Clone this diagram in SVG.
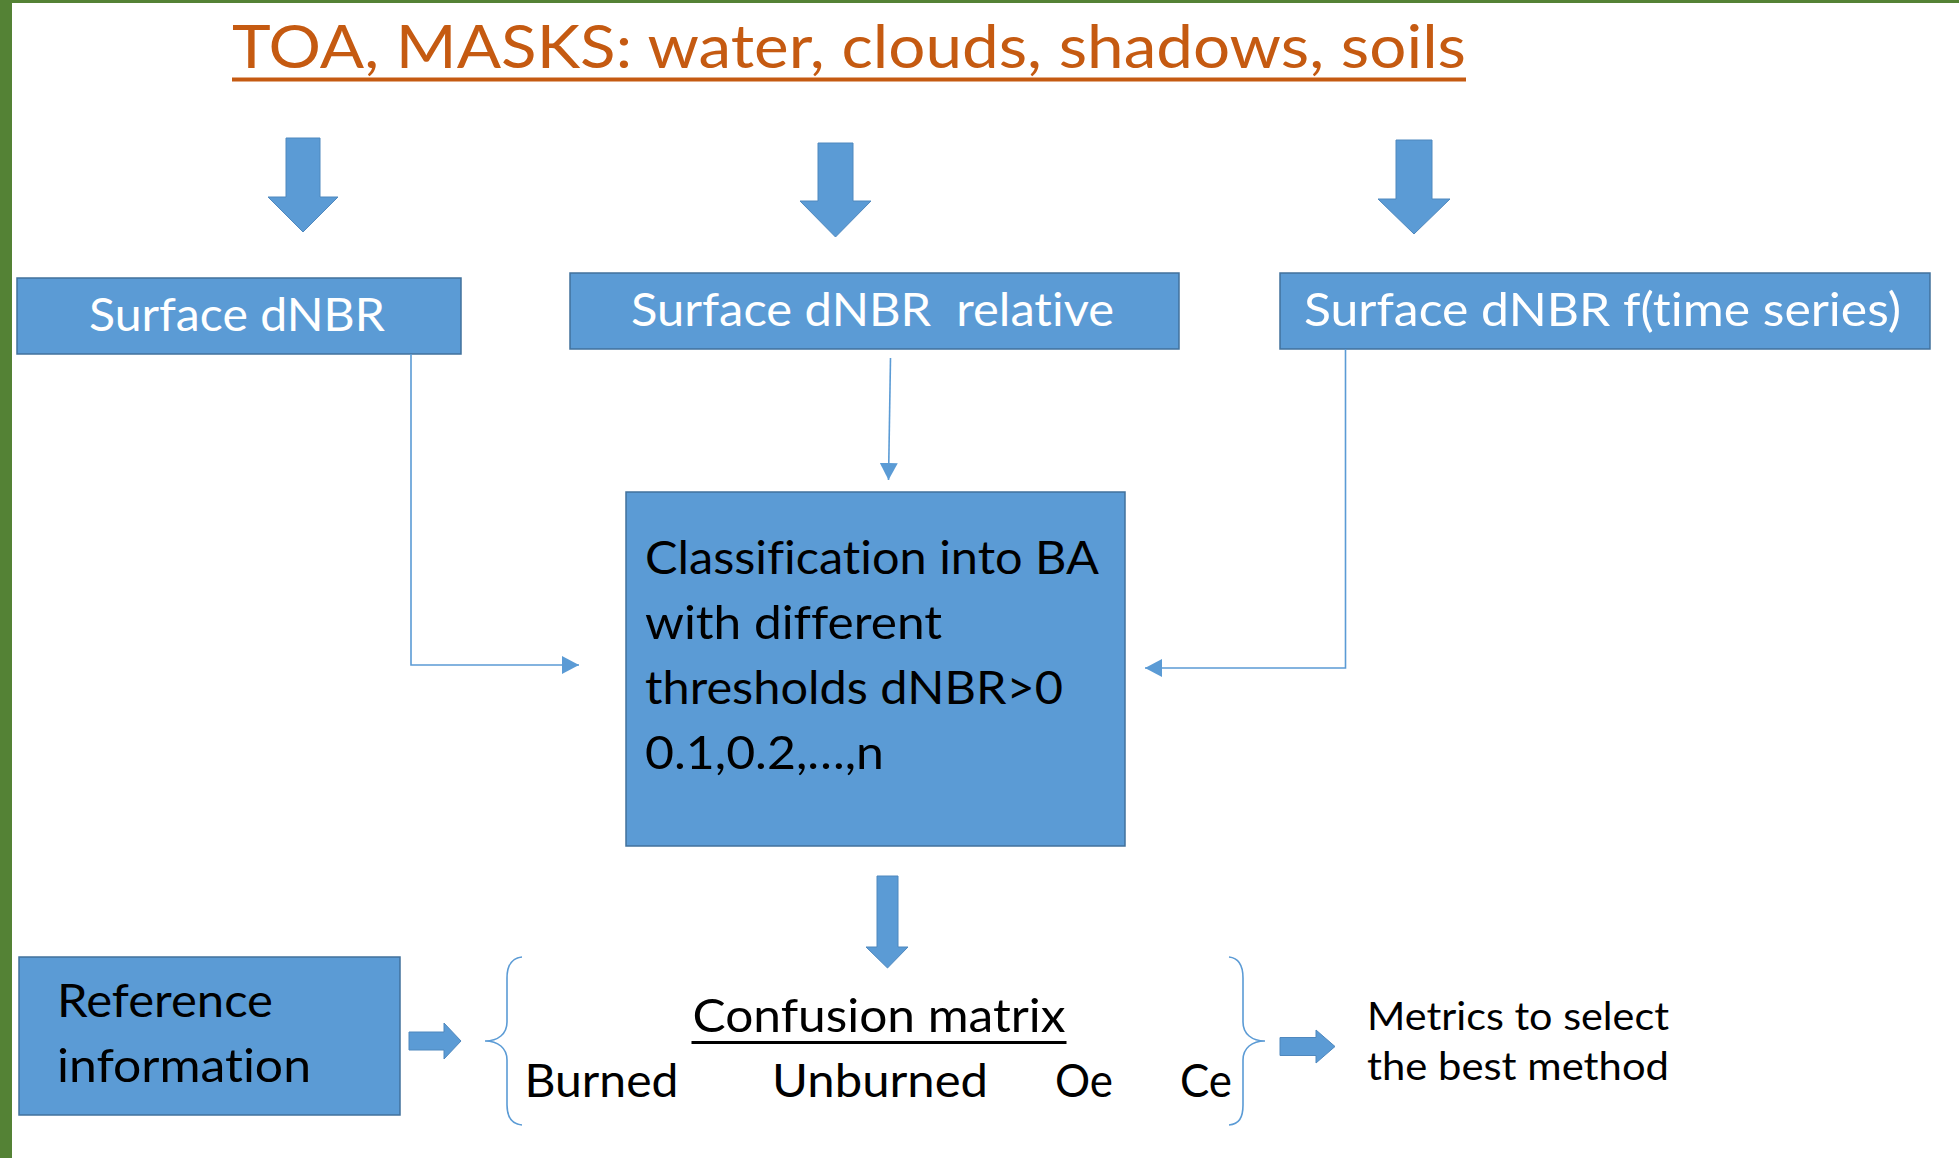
<svg xmlns="http://www.w3.org/2000/svg" width="1959" height="1158" viewBox="0 0 1959 1158">
<style>
.box{fill:#5B9BD5;stroke:#41719C;stroke-width:1.5}
.blk{fill:#5B9BD5;stroke:#4F88BE;stroke-width:1}
.t{font-family:Lato,"Open Sans","Liberation Sans",sans-serif;font-variant-ligatures:none;font-feature-settings:"liga" 0,"clig" 0;}
.w{fill:#FFFFFF;font-size:47px}
.k{fill:#000000;font-size:47px}
.m{fill:#000000;font-size:39px}
.ttl{fill:#C55A11;font-size:60px}
.con{fill:none;stroke:#5B9BD5;stroke-width:1.6}
.brace{fill:none;stroke:#5B9BD5;stroke-width:1.6}
</style>
<defs>
<marker id="ah" markerUnits="userSpaceOnUse" markerWidth="17" markerHeight="18" refX="17" refY="9" orient="auto">
<path d="M0,0 L17,9 L0,18 z" fill="#5B9BD5"/>
</marker>
</defs>
<rect x="0" y="0" width="1959" height="1158" fill="#FFFFFF"/>
<rect x="0" y="0" width="1959" height="3" fill="#548235"/>
<rect x="0" y="0" width="12" height="1158" fill="#548235"/>

<g id="title">
<text class="t ttl" x="232" y="68" textLength="1234" lengthAdjust="spacingAndGlyphs">TOA, MASKS: water, clouds, shadows, soils</text>
<rect x="232" y="77.5" width="1234" height="4" fill="#C55A11"/>
</g>

<g id="arrows-top">
<path class="blk" d="M286,138 L320,138 L320,197 L338,197 L303,232 L268,197 L286,197 z"/>
<path class="blk" d="M818,143 L853,143 L853,201 L871,201 L835.5,237 L800,201 L818,201 z"/>
<path class="blk" d="M1396,140 L1432,140 L1432,199 L1450,199 L1414,234 L1378,199 L1396,199 z"/>
</g>

<g id="node-surface-dnbr">
<rect class="box" x="17" y="278" width="444" height="76"/>
<text class="t w" x="89" y="331" textLength="296" lengthAdjust="spacingAndGlyphs">Surface dNBR</text>
</g>

<g id="node-surface-dnbr-relative">
<rect class="box" x="570" y="273" width="609" height="76"/>
<text class="t w" x="631" y="326" textLength="483" lengthAdjust="spacingAndGlyphs" xml:space="preserve">Surface dNBR  relative</text>
</g>

<g id="node-surface-dnbr-time">
<rect class="box" x="1280" y="273" width="650" height="76"/>
<text class="t w" x="1304" y="326" textLength="597" lengthAdjust="spacingAndGlyphs">Surface dNBR f(time series)</text>
</g>

<g id="node-classification">
<rect class="box" x="626" y="492" width="499" height="354"/>
<text class="t k" x="645" y="574" textLength="454" lengthAdjust="spacingAndGlyphs">Classification into BA</text>
<text class="t k" x="645" y="639" textLength="297" lengthAdjust="spacingAndGlyphs">with different</text>
<text class="t k" x="645" y="704" textLength="418" lengthAdjust="spacingAndGlyphs">thresholds dNBR&gt;0</text>
<text class="t k" x="645" y="769" textLength="239" lengthAdjust="spacingAndGlyphs">0.1,0.2,…,n</text>
</g>

<g id="connectors">
<path class="con" d="M411,354 L411,665 L579,665" marker-end="url(#ah)"/>
<path class="con" d="M890.5,358 L888.5,480" marker-end="url(#ah)"/>
<path class="con" d="M1345.5,349 L1345.5,668 L1145,668" marker-end="url(#ah)"/>
<path class="blk" d="M877,876 L898,876 L898,947 L908,947 L887.5,968 L866,947 L877,947 z"/>
<path class="blk" d="M409,1032 L444,1032 L444,1023 L461,1041 L444,1059 L444,1050 L409,1050 z"/>
<path class="blk" d="M1280,1037.5 L1316,1037.5 L1316,1030 L1335,1046.5 L1316,1063 L1316,1055.5 L1280,1055.5 z"/>
</g>

<g id="node-reference">
<rect class="box" x="19" y="957" width="381" height="158"/>
<text class="t k" x="57" y="1017" textLength="216" lengthAdjust="spacingAndGlyphs">Reference</text>
<text class="t k" x="57" y="1082" textLength="254" lengthAdjust="spacingAndGlyphs">information</text>
</g>

<g id="node-confusion">
<path class="brace" d="M522,957 C512,958 507,965 507,978 L507,1022 C507,1034 498,1041 485,1041 C498,1041 507,1048 507,1060 L507,1105 C507,1118 512,1124 522,1125"/>
<text class="t k" x="692.5" y="1032" textLength="373" lengthAdjust="spacingAndGlyphs">Confusion matrix</text>
<rect x="691.5" y="1041" width="375" height="3" fill="#000000"/>
<text class="t k" x="524.5" y="1097" textLength="154" lengthAdjust="spacingAndGlyphs">Burned</text>
<text class="t k" x="772" y="1097" textLength="216" lengthAdjust="spacingAndGlyphs">Unburned</text>
<text class="t k" x="1055" y="1097" textLength="58" lengthAdjust="spacingAndGlyphs">Oe</text>
<text class="t k" x="1180" y="1097" textLength="52" lengthAdjust="spacingAndGlyphs">Ce</text>
<path class="brace" d="M1229,957 C1239,958 1243,965 1243,978 L1243,1022 C1243,1034 1252,1041 1265,1041 C1252,1041 1243,1048 1243,1060 L1243,1105 C1243,1118 1239,1124 1229,1125"/>
</g>

<g id="node-metrics">
<text class="t m" x="1367" y="1030" textLength="302" lengthAdjust="spacingAndGlyphs">Metrics to select</text>
<text class="t m" x="1367" y="1080" textLength="302" lengthAdjust="spacingAndGlyphs">the best method</text>
</g>
</svg>
